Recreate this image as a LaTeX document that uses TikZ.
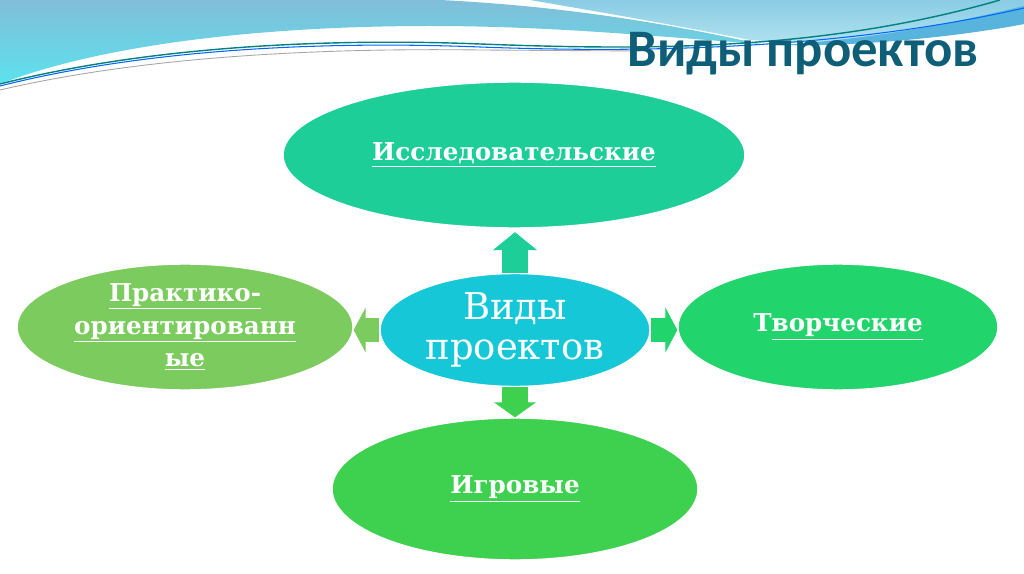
\documentclass[tikz,border=0pt]{standalone}
\usepackage{fontspec}
\setmainfont{DejaVu Serif}
\newfontfamily\titrefont{Carlito}
\usetikzlibrary{shapes.geometric,arrows.meta}

\definecolor{vertRecherche}{RGB}{30,206,152}
\definecolor{cyanCentre}{RGB}{22,200,215}
\definecolor{vertPratique}{RGB}{124,203,94}
\definecolor{vertCreatif}{RGB}{34,212,108}
\definecolor{vertJeux}{RGB}{62,209,80}
\definecolor{bleuTitre}{RGB}{14,94,120}
\definecolor{bleuVague}{RGB}{128,190,216}
\definecolor{cyanVague}{RGB}{92,226,238}
\definecolor{ciel}{RGB}{138,204,228}
\definecolor{cielClair}{RGB}{180,228,240}
\definecolor{bleuBande}{RGB}{88,180,220}

\newcommand\souligne[1]{\underline{#1}}

\tikzset{
  bulle/.style={ellipse,draw=white,line width=0.8pt,inner sep=0pt,text=white,
    font=\bfseries\fontsize{14}{18.7}\selectfont,align=center},
  fleche/.style n args={4}{draw=#1,line width=#2,
    -{Triangle[length=#4,width=#3,line width=0.5pt,fill=#1]}}
}

\begin{document}
\begin{tikzpicture}[x=0.02cm,y=-0.02cm]
\useasboundingbox (0,0) rectangle (1024,574);

%% les vagues du haut
\shade[top color=ciel,bottom color=cielClair] (530,0) .. controls (600,12) and (680,26) .. (750,40)
  .. controls (850,47) and (950,38) .. (1024,24) -- (1024,0) -- cycle;
\fill[bleuBande] (780,45) .. controls (900,37) and (980,16) .. (1024,6) -- (1024,24)
  .. controls (950,38) and (850,47) .. (780,45) -- cycle;
\shade[top color=bleuVague,bottom color=cyanVague] (0,0) -- (440,0) .. controls (560,6) and (660,22) .. (760,44)
  .. controls (650,36) and (550,26) .. (430,26) .. controls (260,26) and (100,45) .. (0,84) -- cycle;
\draw[teal,line width=0.8pt] (0,84) .. controls (150,46) and (330,38) .. (480,44)
  .. controls (640,50) and (820,52) .. (1000,0);
\draw[blue!60!cyan,line width=0.6pt] (0,86) .. controls (150,48) and (330,41) .. (480,47)
  .. controls (640,53) and (840,50) .. (1024,8);
\draw[gray!70,line width=0.5pt] (0,90) .. controls (150,55) and (330,48) .. (480,50) -- (640,51);

%% le titre
\node[anchor=base,text=bleuTitre,font=\titrefont\bfseries\fontsize{30}{34}\selectfont] (titre) at (803,67) {Виды проектов};

%% les bulles
\node[bulle,fill=vertRecherche,minimum width=9.24cm,minimum height=2.92cm] (recherche) at (514,155) {\souligne{Исследовательские}};
\node[bulle,fill=cyanCentre,minimum width=5.4cm,minimum height=2.26cm,
  font=\fontsize{21}{22.7}\selectfont] (centre) at (515,330) {Виды\\проектов};
\node[bulle,fill=vertPratique,minimum width=6.72cm,minimum height=2.52cm] (pratique) at (185,327)
  {\souligne{Практико-}\\\souligne{ориентированн}\\\souligne{ые}};
\node[bulle,fill=vertCreatif,minimum width=6.4cm,minimum height=2.52cm] (creatif) at (838,327) {Т\souligne{ворческие}};
\node[bulle,fill=vertJeux,minimum width=7.32cm,minimum height=2.84cm] (jeux) at (515,489) {\souligne{Игровые}};

%% les flèches
\draw[fleche={vertRecherche}{15.3pt}{25pt}{10.2pt},shorten >=2pt] (centre.north) -- (centre.north |- recherche.south);
\draw[fleche={vertJeux}{14.7pt}{23.8pt}{8.5pt}] (centre.south) -- (centre.south |- jeux.north);
\draw[fleche={vertPratique}{14.2pt}{25.5pt}{6.8pt}] (centre.west) -- (centre.west -| pratique.east);
\draw[fleche={vertCreatif}{14.2pt}{25.5pt}{6.8pt}] (centre.east) -- (centre.east -| creatif.west);

\end{tikzpicture}
\end{document}
